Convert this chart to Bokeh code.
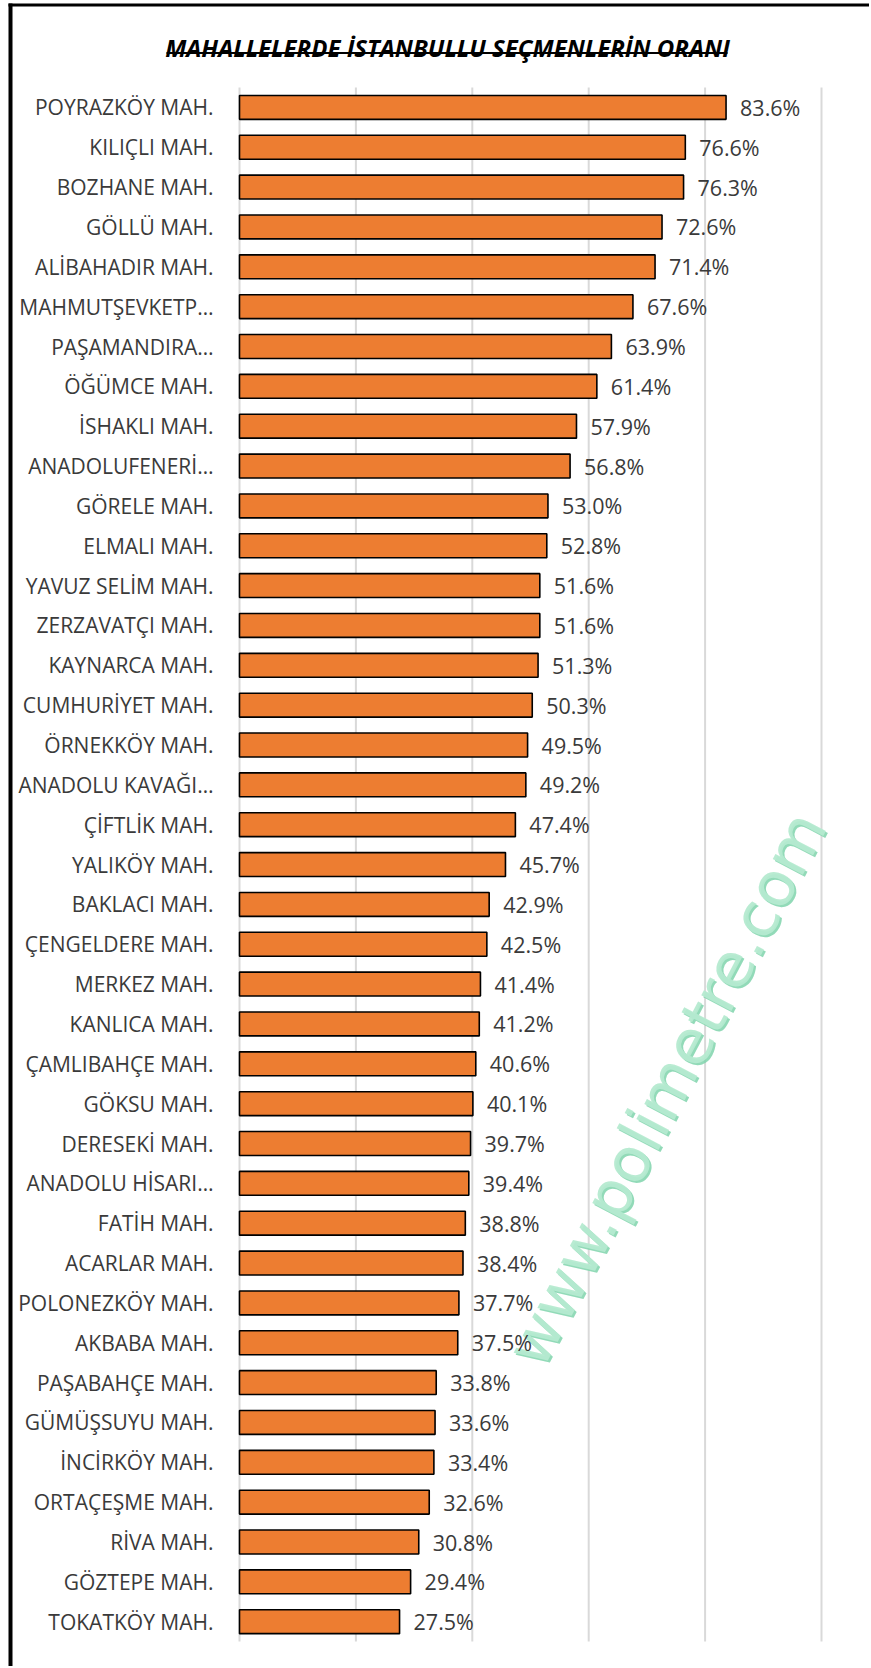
import math
from bokeh.plotting import figure
from bokeh.models import Range1d, ColumnDataSource
from bokeh.core.properties import value
from bokeh.embed import file_html
from bokeh.resources import INLINE

title_text = "MAHALLELERDE İSTANBULLU SEÇMENLERİN ORANI"
categories = [
    "POYRAZKÖY MAH.", "KILIÇLI MAH.", "BOZHANE MAH.", "GÖLLÜ MAH.", "ALİBAHADIR MAH.",
    "MAHMUTŞEVKETP…", "PAŞAMANDIRA…", "ÖĞÜMCE MAH.", "İSHAKLI MAH.", "ANADOLUFENERİ…",
    "GÖRELE MAH.", "ELMALI MAH.", "YAVUZ SELİM MAH.", "ZERZAVATÇI MAH.", "KAYNARCA MAH.",
    "CUMHURİYET MAH.", "ÖRNEKKÖY MAH.", "ANADOLU KAVAĞI…", "ÇİFTLİK MAH.", "YALIKÖY MAH.",
    "BAKLACI MAH.", "ÇENGELDERE MAH.", "MERKEZ MAH.", "KANLICA MAH.", "ÇAMLIBAHÇE MAH.",
    "GÖKSU MAH.", "DERESEKİ MAH.", "ANADOLU HİSARI…", "FATİH MAH.", "ACARLAR MAH.",
    "POLONEZKÖY MAH.", "AKBABA MAH.", "PAŞABAHÇE MAH.", "GÜMÜŞSUYU MAH.", "İNCİRKÖY MAH.",
    "ORTAÇEŞME MAH.", "RİVA MAH.", "GÖZTEPE MAH.", "TOKATKÖY MAH.",
]
values = [
    83.6, 76.6, 76.3, 72.6, 71.4,
    67.6, 63.9, 61.4, 57.9, 56.8,
    53.0, 52.8, 51.6, 51.6, 51.3,
    50.3, 49.5, 49.2, 47.4, 45.7,
    42.9, 42.5, 41.4, 41.2, 40.6,
    40.1, 39.7, 39.4, 38.8, 38.4,
    37.7, 37.5, 33.8, 33.6, 33.4,
    32.6, 30.8, 29.4, 27.5,
]
grid_ticks = [0, 20, 40, 60, 80, 100]
watermark = "www.polimetre.com"

n = len(categories)
ypos = [n - 1 - i for i in range(n)]
labels = [f"{v:.1f}%" for v in values]
src = ColumnDataSource(dict(cat=categories, val=values, lab=labels, y=ypos))

# page layout (pixels) -> data helpers for decorations
W, H = 869, 1666
PX0, PXU = 239.0, 5.82          # page x of value 0, pixels per unit
ROW, TOPC = 39.85, 106.9        # row pitch, page y of first row centre


def X(px):
    return (px - PX0) / PXU


def Y(py):
    return (n - 1) - (py - TOPC) / ROW


p = figure(
    width=W, height=H,
    x_range=Range1d(X(0), X(W)), y_range=Range1d(Y(H), Y(0)),
    x_axis_location=None, y_axis_location=None,
    min_border=0, output_backend="svg", toolbar_location=None,
)
p.outline_line_color = None
p.grid.visible = False
p.background_fill_color = "white"
p.border_fill_color = "white"

# frame border (top and left)
p.quad(left=[X(8)], right=[X(12)], top=[Y(3)], bottom=[Y(H + 5)], fill_color="black", line_color=None)
p.quad(left=[X(8)], right=[X(W + 5)], top=[Y(3)], bottom=[Y(6)], fill_color="black", line_color=None)

# vertical gridlines
p.segment(x0=grid_ticks, x1=grid_ticks, y0=Y(87), y1=Y(1641), line_color="#d9d9d9", line_width=2)

# watermark
ang = math.radians(62.3)
p.text(x=[X(666)], y=[Y(1088)], text=[watermark], angle=ang,
       x_offset=2, y_offset=2, text_align="center", text_baseline="middle",
       text_font=value("DejaVu Sans"), text_font_size="62px", text_color="#7fd4ab", text_alpha=0.85)
p.text(x=[X(666)], y=[Y(1088)], text=[watermark], angle=ang,
       text_align="center", text_baseline="middle",
       text_font=value("DejaVu Sans"), text_font_size="62px", text_color="#b5ead0", text_alpha=0.95)

# bars
p.hbar(y="y", right="val", left=0, height=0.6, source=src,
       fill_color="#ED7D31", line_color="black", line_width=1.6)

# category labels
p.text(x=0, y="y", text="cat", source=src, x_offset=-26,
       text_align="right", text_baseline="middle",
       text_font=value("Open Sans"), text_font_size="21px", text_color="#3a3a3a")

# value labels
p.text(x="val", y="y", text="lab", source=src, x_offset=14,
       text_align="left", text_baseline="middle",
       text_font=value("Open Sans"), text_font_size="21.5px", text_color="#3a3a3a")

# title with underline
p.text(x=[X(447)], y=[Y(47)], text=[title_text], text_align="center", text_baseline="alphabetic",
       text_font=value("Open Sans"), text_font_size="24px", text_font_style="bold italic",
       text_color="black")
p.segment(x0=[X(166)], x1=[X(727)], y0=[Y(52.5)], y1=[Y(52.5)], line_color="black", line_width=2)

open("out.html", "w").write(file_html(p, INLINE))
